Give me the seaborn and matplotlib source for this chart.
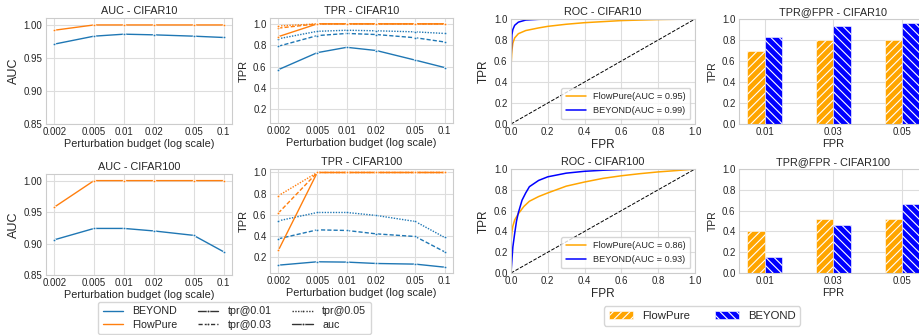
import numpy as np
import pandas as pd
import matplotlib
matplotlib.use('Agg')
import matplotlib.pyplot as plt
import seaborn as sns

budgets = [0.002, 0.005, 0.01, 0.02, 0.05, 0.1]
budget_labels = ['0.002', '0.005', '0.01', '0.02', '0.05', '0.1']
methods = ['BEYOND', 'FlowPure']
metrics = ['tpr@0.01', 'tpr@0.03', 'tpr@0.05', 'auc']

# detection results vs perturbation budget
c10_beyond_auc = [0.971, 0.983, 0.986, 0.985, 0.983, 0.981]
c10_flowpure_auc = [0.992, 1.0, 1.0, 1.0, 1.0, 1.0]
c100_beyond_auc = [0.906, 0.924, 0.924, 0.920, 0.913, 0.887]
c100_flowpure_auc = [0.958, 1.0, 1.0, 1.0, 1.0, 1.0]

c10_beyond_tpr01 = [0.57, 0.73, 0.78, 0.75, 0.66, 0.59]
c10_beyond_tpr03 = [0.79, 0.89, 0.91, 0.90, 0.87, 0.83]
c10_beyond_tpr05 = [0.86, 0.93, 0.94, 0.935, 0.925, 0.91]
c10_flowpure_tpr01 = [0.88, 1.0, 1.0, 1.0, 1.0, 1.0]
c10_flowpure_tpr03 = [0.96, 1.0, 1.0, 1.0, 1.0, 1.0]
c10_flowpure_tpr05 = [0.98, 1.0, 1.0, 1.0, 1.0, 1.0]

c100_beyond_tpr01 = [0.124, 0.156, 0.153, 0.14, 0.134, 0.105]
c100_beyond_tpr03 = [0.373, 0.458, 0.452, 0.42, 0.395, 0.25]
c100_beyond_tpr05 = [0.543, 0.622, 0.622, 0.594, 0.537, 0.386]
c100_flowpure_tpr01 = [0.263, 1.0, 1.0, 1.0, 1.0, 1.0]
c100_flowpure_tpr03 = [0.616, 1.0, 1.0, 1.0, 1.0, 1.0]
c100_flowpure_tpr05 = [0.78, 1.0, 1.0, 1.0, 1.0, 1.0]

# roc curves
roc10_flowpure_fpr = [0, 0.0, 0.005, 0.01, 0.02, 0.04, 0.08, 0.15, 0.2, 0.3, 0.4, 0.5, 0.6, 0.8, 1.0]
roc10_flowpure_tpr = [0, 0.55, 0.70, 0.77, 0.82, 0.86, 0.89, 0.915, 0.93, 0.95, 0.965, 0.975, 0.985, 0.995, 1.0]
roc10_beyond_fpr = [0, 0.0, 0.005, 0.01, 0.02, 0.04, 0.08, 0.15, 0.2, 1.0]
roc10_beyond_tpr = [0, 0.6, 0.85, 0.90, 0.94, 0.97, 0.99, 0.997, 1.0, 1.0]
roc100_flowpure_fpr = [0, 0.0, 0.005, 0.01, 0.02, 0.04, 0.07, 0.1, 0.15, 0.2, 0.3, 0.4, 0.5, 0.6, 0.7, 0.8, 0.9, 1.0]
roc100_flowpure_tpr = [0, 0.3, 0.40, 0.45, 0.51, 0.57, 0.64, 0.69, 0.735, 0.77, 0.835, 0.875, 0.91, 0.935, 0.955, 0.972, 0.985, 1.0]
roc100_beyond_fpr = [0, 0.01, 0.02, 0.03, 0.04, 0.06, 0.08, 0.1, 0.15, 0.2, 0.3, 0.4, 0.5, 0.6, 0.7, 1.0]
roc100_beyond_tpr = [0, 0.25, 0.38, 0.50, 0.58, 0.70, 0.77, 0.83, 0.89, 0.925, 0.96, 0.978, 0.988, 0.995, 1.0, 1.0]
roc10_auc = {'FlowPure': 0.95, 'BEYOND': 0.99}
roc100_auc = {'FlowPure': 0.86, 'BEYOND': 0.93}

# tpr at fixed fpr
fpr_levels = ['0.01', '0.03', '0.05']
bar10_flowpure = [0.70, 0.80, 0.80]
bar10_beyond = [0.825, 0.93, 0.96]
bar100_flowpure = [0.40, 0.522, 0.522]
bar100_beyond = [0.15, 0.46, 0.663]


def long_df(series):
    rows = []
    for (method, metric), vals in series.items():
        for b, v in zip(budgets, vals):
            rows.append({'budget': b, 'value': v, 'method': method, 'metric': metric})
    return pd.DataFrame(rows)


auc_data = {
    'CIFAR10': long_df({('BEYOND', 'auc'): c10_beyond_auc, ('FlowPure', 'auc'): c10_flowpure_auc}),
    'CIFAR100': long_df({('BEYOND', 'auc'): c100_beyond_auc, ('FlowPure', 'auc'): c100_flowpure_auc}),
}
tpr_data = {
    'CIFAR10': long_df({('BEYOND', 'tpr@0.01'): c10_beyond_tpr01, ('BEYOND', 'tpr@0.03'): c10_beyond_tpr03,
                        ('BEYOND', 'tpr@0.05'): c10_beyond_tpr05, ('FlowPure', 'tpr@0.01'): c10_flowpure_tpr01,
                        ('FlowPure', 'tpr@0.03'): c10_flowpure_tpr03, ('FlowPure', 'tpr@0.05'): c10_flowpure_tpr05}),
    'CIFAR100': long_df({('BEYOND', 'tpr@0.01'): c100_beyond_tpr01, ('BEYOND', 'tpr@0.03'): c100_beyond_tpr03,
                         ('BEYOND', 'tpr@0.05'): c100_beyond_tpr05, ('FlowPure', 'tpr@0.01'): c100_flowpure_tpr01,
                         ('FlowPure', 'tpr@0.03'): c100_flowpure_tpr03, ('FlowPure', 'tpr@0.05'): c100_flowpure_tpr05}),
}
roc_data = {
    'CIFAR10': [('FlowPure', roc10_flowpure_fpr, roc10_flowpure_tpr, roc10_auc['FlowPure']),
                ('BEYOND', roc10_beyond_fpr, roc10_beyond_tpr, roc10_auc['BEYOND'])],
    'CIFAR100': [('FlowPure', roc100_flowpure_fpr, roc100_flowpure_tpr, roc100_auc['FlowPure']),
                 ('BEYOND', roc100_beyond_fpr, roc100_beyond_tpr, roc100_auc['BEYOND'])],
}
bar_data = {
    'CIFAR10': pd.DataFrame({'fpr': fpr_levels * 2, 'method': ['FlowPure'] * 3 + ['BEYOND'] * 3,
                             'tpr': bar10_flowpure + bar10_beyond}),
    'CIFAR100': pd.DataFrame({'fpr': fpr_levels * 2, 'method': ['FlowPure'] * 3 + ['BEYOND'] * 3,
                              'tpr': bar100_flowpure + bar100_beyond}),
}

sns.set_theme(style='whitegrid')
plt.rcParams['font.family'] = ['Liberation Sans', 'DejaVu Sans']
plt.rcParams['hatch.linewidth'] = 0.8

palette = {'BEYOND': '#1f77b4', 'FlowPure': '#ff7f0e'}
dashes = {'tpr@0.01': '', 'tpr@0.03': (3, 1.5), 'tpr@0.05': (1, 1), 'auc': ''}
markers = {m: '.' for m in metrics}
roc_colors = {'FlowPure': 'orange', 'BEYOND': 'blue'}

W, H = 920, 335
fig = plt.figure(figsize=(9.2, 3.35), dpi=100)


def px_axes(left, top, right, bottom):
    return fig.add_axes([left / W, 1 - bottom / H, (right - left) / W, (bottom - top) / H])


title_fs = 7.8
tick_fs = 7
axes = {
    ('auc', 'CIFAR10'): px_axes(46, 18, 232, 124),
    ('tpr', 'CIFAR10'): px_axes(270, 18, 453, 123),
    ('roc', 'CIFAR10'): px_axes(511, 19, 695, 124),
    ('bar', 'CIFAR10'): px_axes(739, 19, 928, 124),
    ('auc', 'CIFAR100'): px_axes(46, 174, 232, 275),
    ('tpr', 'CIFAR100'): px_axes(270, 169, 453, 273),
    ('roc', 'CIFAR100'): px_axes(511, 169, 695, 273),
    ('bar', 'CIFAR100'): px_axes(739, 169, 928, 273),
}
tpr_ylim = {'CIFAR10': (0.07, 1.055), 'CIFAR100': (0.05, 1.033)}


def style_budget_axis(ax):
    ax.set_xscale('log')
    ax.set_xticks(budgets)
    ax.set_xticklabels(budget_labels)
    ax.xaxis.set_minor_locator(matplotlib.ticker.NullLocator())
    ax.set_xlabel('Perturbation budget (log scale)', fontsize=7.8, labelpad=1)


line_kw = dict(palette=palette, linewidth=1, markersize=4, markeredgewidth=0.6)
leg_handles = None
for ds in ['CIFAR10', 'CIFAR100']:
    # AUC vs budget
    ax = axes[('auc', ds)]
    sns.lineplot(data=auc_data[ds], x='budget', y='value', hue='method', hue_order=methods,
                 marker='.', ax=ax, legend=False, **line_kw)
    style_budget_axis(ax)
    ax.set_ylim(0.85, 1.0105)
    ax.set_yticks([0.85, 0.90, 0.95, 1.00])
    ax.set_ylabel('AUC', fontsize=9, labelpad=3)
    ax.set_title(f'AUC - {ds}', fontsize=title_fs, pad=3)

    # TPR vs budget
    ax = axes[('tpr', ds)]
    sns.lineplot(data=tpr_data[ds], x='budget', y='value', hue='method', hue_order=methods,
                 style='metric', style_order=metrics, dashes=dashes, markers=markers,
                 ax=ax, legend=(ds == 'CIFAR10'), **line_kw)
    if ds == 'CIFAR10':
        h, l = ax.get_legend_handles_labels()
        leg_handles = [(hh, ll) for hh, ll in zip(h, l) if ll not in ('method', 'metric')]
        ax.get_legend().remove()
    style_budget_axis(ax)
    ax.set_ylim(*tpr_ylim[ds])
    ax.set_yticks([0.2, 0.4, 0.6, 0.8, 1.0])
    ax.set_ylabel('TPR', fontsize=8, labelpad=3)
    ax.set_title(f'TPR - {ds}', fontsize=title_fs, pad=3)

    # ROC
    ax = axes[('roc', ds)]
    for name, fpr, tpr, auc in roc_data[ds]:
        sns.lineplot(x=fpr, y=tpr, color=roc_colors[name], estimator=None, sort=False,
                     linewidth=1.1, label=f'{name}(AUC = {auc:.2f})', ax=ax)
    ax.plot([0, 1], [0, 1], color='black', linestyle='--', linewidth=0.7)
    ax.set_xlim(0, 1)
    ax.set_ylim(0, 1)
    ax.set_xticks(np.linspace(0, 1, 6))
    ax.set_yticks(np.linspace(0, 1, 6))
    ax.set_xlabel('FPR', fontsize=8.5, labelpad=1)
    ax.set_ylabel('TPR', fontsize=8.5, labelpad=3)
    ax.set_title(f'ROC - {ds}', fontsize=title_fs, pad=3)
    ax.legend(loc='lower right', fontsize=6.6, handlelength=2.2, borderpad=0.5, labelspacing=0.5)

    # TPR at fixed FPR
    ax = axes[('bar', ds)]
    sns.barplot(data=bar_data[ds], x='fpr', y='tpr', hue='method', hue_order=['FlowPure', 'BEYOND'],
                palette=roc_colors, saturation=1, width=0.5, edgecolor='white', linewidth=0.4,
                ax=ax, legend=False)
    for cont, hatch in zip(ax.containers, ['////', '\\\\\\\\']):
        for bar in cont:
            bar.set_hatch(hatch)
    ax.set_xlim(-0.37, 2.37)
    ax.set_ylim(0, 1)
    ax.set_yticks(np.linspace(0, 1, 6))
    ax.set_xlabel('FPR', fontsize=8, labelpad=1)
    ax.set_ylabel('TPR', fontsize=7.5, labelpad=3)
    ax.set_title(f'TPR@FPR - {ds}', fontsize=title_fs, pad=3)

for ax in axes.values():
    ax.tick_params(labelsize=tick_fs, length=0, pad=2.5)
    for sp in ax.spines.values():
        sp.set_color('#cccccc')
        sp.set_linewidth(0.8)
    ax.grid(True, color='#dddddd', linewidth=0.8)

fig.legend([h for h, _ in leg_handles], [l for _, l in leg_handles], ncol=3,
           loc='center', bbox_to_anchor=(234.5 / W, 1 - 318 / H), fontsize=7.7,
           handlelength=1.9, handletextpad=0.9, columnspacing=1.9, labelspacing=0.3,
           borderpad=0.45, fancybox=True)

bax = axes[('bar', 'CIFAR10')]
fig.legend([bax.containers[0][0], bax.containers[1][0]], ['FlowPure', 'BEYOND'], ncol=2,
           loc='center', bbox_to_anchor=(702 / W, 1 - 316 / H), fontsize=8.2,
           handlelength=2.1, columnspacing=2.2, borderpad=0.4)

fig.savefig('out.png', dpi=100)
